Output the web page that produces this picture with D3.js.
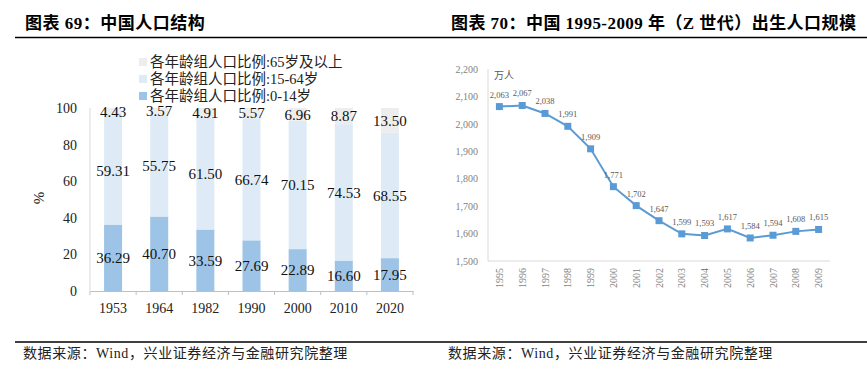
<!DOCTYPE html>
<html>
<head>
<meta charset="utf-8">
<script src="https://cdn.jsdelivr.net/npm/d3@7"></script>
<style>
  body { margin: 0; background: #fff; }
  text { font-family: "Liberation Serif", "Noto Sans CJK SC", serif; }
</style>
</head>
<body>
<div id="chart"></div>
<script>
// left chart data: population structure (%)
const years = ["1953", "1964", "1982", "1990", "2000", "2010", "2020"];
const age0to14 = [36.29, 40.70, 33.59, 27.69, 22.89, 16.60, 17.95];
const age15to64 = [59.31, 55.75, 61.50, 66.74, 70.15, 74.53, 68.55];
const age65plus = [4.43, 3.57, 4.91, 5.57, 6.96, 8.87, 13.50];
const seriesNames = ["各年龄组人口比例:0-14岁", "各年龄组人口比例:15-64岁", "各年龄组人口比例:65岁及以上"];
const pctTicks = [0, 20, 40, 60, 80, 100];

// right chart data: births 1995-2009 (万人)
const birthYears = ["1995", "1996", "1997", "1998", "1999", "2000", "2001", "2002",
                    "2003", "2004", "2005", "2006", "2007", "2008", "2009"];
const births = [2063, 2067, 2038, 1991, 1909, 1771, 1702, 1647, 1599, 1593, 1617, 1584, 1594, 1608, 1615];
const birthTicks = [1500, 1600, 1700, 1800, 1900, 2000, 2100, 2200];

const W = 867, H = 373;
const svg = d3.select("#chart").append("svg")
    .attr("width", W)
    .attr("height", H);

// titles and rules
svg.append("text").attr("x", 25).attr("y", 29)
    .attr("font-size", "17px").attr("font-weight", "bold")
    .style("letter-spacing", "0.5px")
    .text("图表 69：中国人口结构");
svg.append("text").attr("x", 451).attr("y", 29)
    .attr("font-size", "17px").attr("font-weight", "bold")
    .style("letter-spacing", "0.45px")
    .text("图表 70：中国 1995-2009 年（Z 世代）出生人口规模");
svg.append("line").attr("x1", 15).attr("x2", W).attr("y1", 37.5).attr("y2", 37.5)
    .attr("stroke", "#000").attr("stroke-width", 1.3);
svg.append("line").attr("x1", 15).attr("x2", W).attr("y1", 342).attr("y2", 342)
    .attr("stroke", "#000").attr("stroke-width", 1.3);
[23, 448].forEach(x => {
    svg.append("text").attr("x", x).attr("y", 358)
        .attr("font-size", "14px").attr("fill", "#222")
        .style("letter-spacing", "0.6px")
        .text("数据来源：Wind，兴业证券经济与金融研究院整理");
});

// ---------- left: stacked bars ----------
const colors = ["#9DC3E6", "#DEEBF7", "#EDEDED"];
const x1 = d3.scaleBand().domain(years).range([90, 413]).padding(0);
const y1 = d3.scaleLinear().domain([0, 100]).range([291, 108]);
const barW = x1.bandwidth() * 0.39;

const stackData = years.map((yr, i) => ({year: yr, a: age0to14[i], b: age15to64[i], c: age65plus[i]}));
const stacked = d3.stack().keys(["a", "b", "c"])(stackData);

const gL = svg.append("g");

gL.selectAll("g.layer")
    .data(stacked)
    .join("g")
    .attr("fill", (d, i) => colors[i])
    .selectAll("rect")
    .data(d => d)
    .join("rect")
    .attr("x", d => x1(d.data.year) + (x1.bandwidth() - barW) / 2)
    .attr("y", d => y1(d[1]))
    .attr("width", barW)
    .attr("height", d => y1(d[0]) - y1(d[1]));

// value labels
gL.selectAll("g.lbl")
    .data(stacked)
    .join("g")
    .selectAll("text")
    .data(d => d.map(p => ({p, key: d.key})))
    .join("text")
    .attr("x", d => x1(d.p.data.year) + x1.bandwidth() / 2)
    .attr("y", d => y1((d.p[0] + d.p[1]) / 2))
    .attr("dy", "0.35em")
    .attr("text-anchor", "middle")
    .attr("font-size", "15px")
    .attr("fill", "#111")
    .text(d => d.p.data[d.key].toFixed(2));

// y axis
gL.append("line").attr("x1", 90).attr("x2", 90).attr("y1", y1(100)).attr("y2", y1(0))
    .attr("stroke", "#d9d9d9");
const yAxisL = gL.append("g")
    .attr("transform", "translate(90,0)")
    .call(d3.axisLeft(y1).tickValues(pctTicks).tickSize(0).tickPadding(13));
yAxisL.select(".domain").remove();
yAxisL.selectAll("text").attr("font-size", "14px").attr("fill", "#222")
    .style("font-family", "'Liberation Serif', serif");

// x axis
const xAxisL = gL.append("g")
    .attr("transform", `translate(0,${y1(0)})`)
    .call(d3.axisBottom(x1).tickSize(0).tickPadding(12));
xAxisL.select(".domain").attr("stroke", "#bfbfbf");
xAxisL.selectAll("text").attr("font-size", "14px").attr("fill", "#222")
    .style("font-family", "'Liberation Serif', serif");
gL.selectAll("line.xt")
    .data(years.concat(["end"]))
    .join("line")
    .attr("class", "xt")
    .attr("x1", (d, i) => 90 + i * x1.step())
    .attr("x2", (d, i) => 90 + i * x1.step())
    .attr("y1", y1(0)).attr("y2", y1(0) + 4)
    .attr("stroke", "#bfbfbf");

gL.append("text")
    .attr("transform", "translate(44,198) rotate(-90)")
    .attr("text-anchor", "middle")
    .attr("font-size", "15px")
    .attr("fill", "#222")
    .text("%");

// legend (top item = 65+)
const legendOrder = [2, 1, 0];
const legend = gL.selectAll("g.leg")
    .data(legendOrder)
    .join("g")
    .attr("transform", (d, i) => `translate(139,${62 + i * 17})`);
legend.append("rect")
    .attr("x", 0).attr("y", -4).attr("width", 8).attr("height", 8)
    .attr("fill", d => colors[d]);
legend.append("text")
    .attr("x", 11).attr("y", 0).attr("dy", "0.35em")
    .attr("font-size", "14.5px").attr("fill", "#222")
    .text(d => seriesNames[d]);

// ---------- right: line chart ----------
const x2 = d3.scaleBand().domain(birthYears).range([488, 830]).padding(0);
const y2 = d3.scaleLinear().domain([1500, 2200]).range([261, 69]);
const gR = svg.append("g");

gR.append("line").attr("x1", 488).attr("x2", 488).attr("y1", y2(2200)).attr("y2", y2(1500))
    .attr("stroke", "#d9d9d9");
gR.append("line").attr("x1", 488).attr("x2", 830).attr("y1", y2(1500)).attr("y2", y2(1500))
    .attr("stroke", "#d9d9d9");

const yAxisR = gR.append("g")
    .attr("transform", "translate(488,0)")
    .call(d3.axisLeft(y2).tickValues(birthTicks).tickSize(0).tickPadding(10)
        .tickFormat(d3.format(",")));
yAxisR.select(".domain").remove();
yAxisR.selectAll("text").attr("font-size", "10px").attr("fill", "#7f7f7f")
    .style("font-family", "'Liberation Serif', serif");

gR.selectAll("text.xl")
    .data(birthYears)
    .join("text")
    .attr("class", "xl")
    .attr("transform", d => `translate(${x2(d) + x2.bandwidth() / 2},268) rotate(-90)`)
    .attr("text-anchor", "end")
    .attr("dy", "0.35em")
    .attr("font-size", "10px")
    .attr("fill", "#7f7f7f")
    .text(d => d);

gR.append("text").attr("x", 494).attr("y", 79)
    .attr("font-size", "10px").attr("fill", "#595959")
    .text("万人");

const pts = birthYears.map((yr, i) => ({yr, v: births[i]}));
const line = d3.line()
    .x(d => x2(d.yr) + x2.bandwidth() / 2)
    .y(d => y2(d.v));

gR.append("path")
    .datum(pts)
    .attr("d", line)
    .attr("fill", "none")
    .attr("stroke", "#5B9BD5")
    .attr("stroke-width", 2);

gR.selectAll("rect.mk")
    .data(pts)
    .join("rect")
    .attr("class", "mk")
    .attr("x", d => x2(d.yr) + x2.bandwidth() / 2 - 3.5)
    .attr("y", d => y2(d.v) - 3.5)
    .attr("width", 7).attr("height", 7)
    .attr("fill", "#5B9BD5");

gR.selectAll("text.dl")
    .data(pts)
    .join("text")
    .attr("class", "dl")
    .attr("x", d => x2(d.yr) + x2.bandwidth() / 2)
    .attr("y", d => y2(d.v) - 9)
    .attr("text-anchor", "middle")
    .attr("font-size", "8.5px")
    .attr("fill", "#595959")
    .text(d => d3.format(",")(d.v));
</script>
</body>
</html>
